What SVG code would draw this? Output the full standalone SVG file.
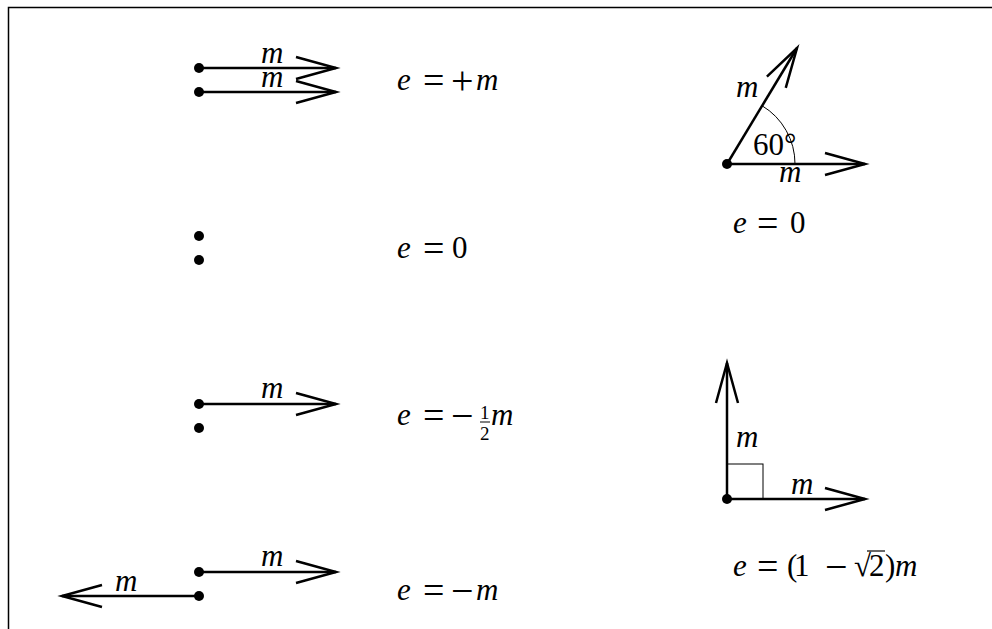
<svg xmlns="http://www.w3.org/2000/svg" width="992" height="629" viewBox="0 0 992 629">
<defs>
<marker id="ah" markerUnits="userSpaceOnUse" markerWidth="50" markerHeight="30" refX="45" refY="15" orient="auto" overflow="visible">
<path d="M5,4 L45,15 L5,26" fill="none" stroke="#000" stroke-width="2.5"/>
</marker>
</defs>
<style>
.ar{stroke:#000;stroke-width:2.5;fill:none;marker-end:url(#ah)}
.dot{fill:#000}
text{font-family:"Liberation Serif","Times New Roman",serif;font-size:31px;fill:#000}
.i{font-style:italic}
.o{font-size:38px}
.p{font-size:40px}
.s{font-size:19px}
.thin{stroke:#000;stroke-width:1;fill:none}
</style>
<rect width="992" height="629" fill="#fff"/>
<g id="border"><path d="M8.5,629 V7.5 H992" fill="none" stroke="#000" stroke-width="1.5"/></g>
<g id="connectors">
<line class="ar" x1="199" y1="68" x2="336" y2="68"/>
<line class="ar" x1="199" y1="92" x2="336" y2="92"/>
<line class="ar" x1="199" y1="404" x2="336" y2="404"/>
<line class="ar" x1="199" y1="572" x2="336" y2="572"/>
<line class="ar" x1="199" y1="596" x2="62" y2="596"/>
<line class="ar" x1="727" y1="164" x2="797" y2="48"/>
<line class="ar" x1="727" y1="164" x2="865" y2="164"/>
<line class="ar" x1="727" y1="499" x2="727" y2="363"/>
<line class="ar" x1="727" y1="499" x2="865" y2="499"/>
</g>
<g id="n1">
<circle class="dot" cx="199" cy="68" r="5"/><circle class="dot" cx="199" cy="92" r="5"/>
<text class="i" x="261" y="63">m</text><text class="i" x="261" y="87">m</text>
<text y="90"><tspan class="i" x="397">e</tspan><tspan class="o" x="423" y="93">=</tspan><tspan class="p" x="451" y="94">+</tspan><tspan class="i" x="476" y="90">m</tspan></text>
</g>
<g id="n2">
<circle class="dot" cx="199" cy="236" r="5"/><circle class="dot" cx="199" cy="260" r="5"/>
<text y="258"><tspan class="i" x="397">e</tspan><tspan class="o" x="423" y="261">=</tspan><tspan x="452" y="258">0</tspan></text>
</g>
<g id="n3">
<circle class="dot" cx="199" cy="404" r="5"/><circle class="dot" cx="199" cy="428" r="5"/>
<text class="i" x="261" y="398">m</text>
<text y="425"><tspan class="i" x="397">e</tspan><tspan class="o" x="423" y="428">=</tspan><tspan class="p" x="451" y="429">−</tspan><tspan class="i" x="491" y="425">m</tspan></text>
<text class="s" x="480" y="419">1</text>
<line x1="480" y1="422" x2="490" y2="422" stroke="#000" stroke-width="1"/>
<text class="s" x="480" y="440">2</text>
</g>
<g id="n4">
<circle class="dot" cx="199" cy="572" r="5"/><circle class="dot" cx="199" cy="596" r="5"/>
<text class="i" x="261" y="566">m</text>
<text class="i" x="115" y="591">m</text>
<text y="600"><tspan class="i" x="397">e</tspan><tspan class="o" x="423" y="603">=</tspan><tspan class="p" x="451" y="604">−</tspan><tspan class="i" x="476" y="600">m</tspan></text>
</g>
<g id="n5">
<circle class="dot" cx="727" cy="164" r="5"/>
<path class="thin" d="M795,164 A68,68 0 0 0 762,105.7"/>
<text class="i" x="736" y="97">m</text>
<text x="753" y="155">60°</text>
<text class="i" x="779" y="182">m</text>
<text y="233"><tspan class="i" x="733">e</tspan><tspan class="o" x="757" y="236">=</tspan><tspan x="790" y="233">0</tspan></text>
</g>
<g id="n6">
<circle class="dot" cx="727" cy="499" r="5"/>
<rect class="thin" x="727" y="464" width="36" height="35"/>
<text class="i" x="736" y="447">m</text>
<text class="i" x="791" y="494">m</text>
<text y="576"><tspan class="i" x="733">e</tspan><tspan class="o" x="757" y="579">=</tspan><tspan x="787" y="576">(</tspan><tspan x="794">1</tspan><tspan class="p" x="825" y="580">−</tspan><tspan x="854" y="576">√</tspan><tspan x="869">2</tspan><tspan x="885">)</tspan><tspan class="i" x="895">m</tspan></text>
<line x1="867" y1="551" x2="885" y2="551" stroke="#000" stroke-width="1.2"/>
</g>
</svg>
